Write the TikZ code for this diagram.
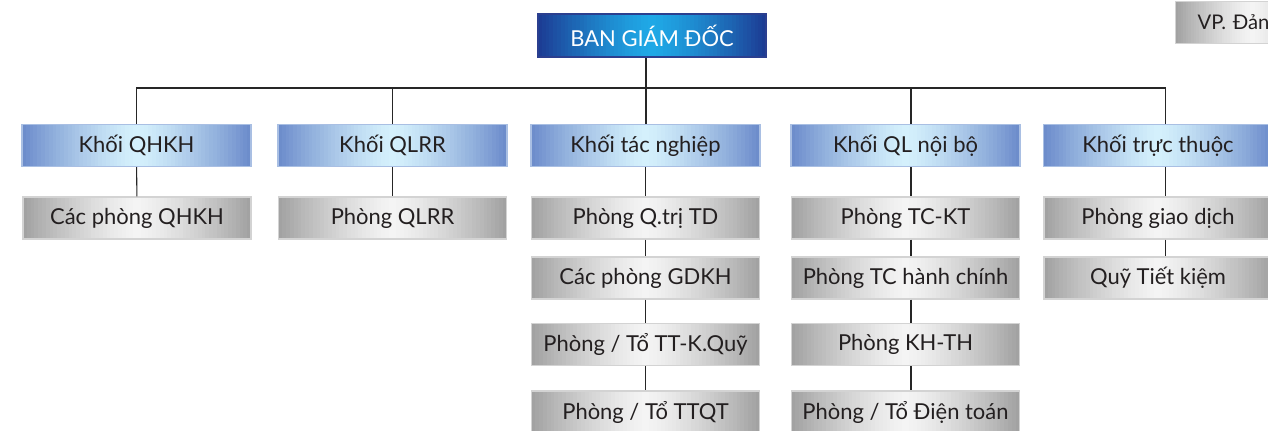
\documentclass[tikz,border=0pt]{standalone}
\usepackage{fontspec}
\setmainfont{Lato}
\usetikzlibrary{calc}
\definecolor{bedge}{HTML}{6A8ACA}
\definecolor{bmid}{HTML}{D4F0FC}
\definecolor{bline}{HTML}{A9BFE3}
\definecolor{gedge}{HTML}{A0A0A0}
\definecolor{gmid}{HTML}{F4F4F4}
\definecolor{gline}{HTML}{D3D3D3}
\definecolor{tedge}{HTML}{1C3A92}
\definecolor{tmid}{HTML}{1FA8E6}
\definecolor{tline}{HTML}{2B3F8F}
\definecolor{txt}{HTML}{231F20}
\tikzset{
  hgrad/.style 2 args={path picture={
    \path (path picture bounding box.south west) coordinate (ppsw)
          (path picture bounding box.north east) coordinate (ppne);
    \foreach \i in {0,...,59}{
      \pgfmathtruncatemacro\w{abs(2*(\i+0.5)/60-1)^1.3*100}
      \fill[#1!\w!#2] ($(ppsw)!\i/60!(ppsw -| ppne)$) rectangle ($(ppne -| ppsw)!{(\i+1.4)/60}!(ppne)$);
    }}},
  box/.style={rectangle, minimum height=0.84cm, inner sep=0pt, text=txt,
    font=\fontsize{12.5}{14}\selectfont},
  bluebox/.style={box, minimum width=4.58cm, hgrad={bedge}{bmid}, draw=bline, line width=0.7pt},
  graybox/.style={box, minimum width=4.56cm, hgrad={gedge}{gmid}, draw=gline, line width=0.7pt},
  topbox/.style={box, minimum width=4.56cm, minimum height=0.86cm, hgrad={tedge}{tmid}, draw=tline, line width=1.2pt, text=white},
  link/.style={draw=black!85, line width=0.6pt}
}
\begin{document}
\begin{tikzpicture}[x=0.02cm, y=-0.02cm]
\clip (0,0) rectangle (1268,430);
\fill[white] (0,0) rectangle (1268,430);
% top
\node[topbox] (bgd) at (652,35.5) {BAN GIÁM ĐỐC};
\node[graybox, anchor=west, text width=2.2cm, align=left, inner xsep=0.44cm, minimum width=2.6cm, font=\fontsize{11.5}{13}\selectfont] (vp) at (1175,22.5) {VP. Đản};
% level 2
\node[bluebox] (k1) at (136.5,145.5) {Khối QHKH};
\node[bluebox] (k2) at (392.5,145.5) {Khối QLRR};
\node[bluebox] (k3) at (645.5,145.5) {Khối tác nghiệp};
\node[bluebox] (k4) at (905.5,145.5) {Khối QL nội bộ};
\node[bluebox] (k5) at (1158,145.5) {Khối trực thuộc};
% level 3
\node[graybox] (a1) at (137,218) {Các phòng QHKH};
\node[graybox] (b1) at (392.5,218) {Phòng QLRR};
\node[graybox] (c1) at (645.5,218) {Phòng Q.trị TD};
\node[graybox] (c2) at (645.5,278) {Các phòng GDKH};
\node[graybox] (c3) at (645.5,344.5) {Phòng / Tổ TT-K.Quỹ};
\node[graybox] (c4) at (645.5,412) {Phòng / Tổ TTQT};
\node[graybox] (d1) at (905.5,218) {Phòng TC-KT};
\node[graybox] (d2) at (905.5,278) {Phòng TC hành chính};
\node[graybox] (d3) at (905.5,344.5) {Phòng KH-TH};
\node[graybox] (d4) at (905.5,412) {Phòng / Tổ Điện toán};
\node[graybox] (e1) at (1158,218) {Phòng giao dịch};
\node[graybox] (e2) at (1158,278) {Quỹ Tiết kiệm};
% connectors
\coordinate (bus) at (646,88);
\draw[link] (bus) -- (bus |- bgd.south);
\draw[link] (bus) -| (k1.north);
\draw[link] (bus) -| (k2.north);
\draw[link] (bus) -- (bus |- k3.north);
\draw[link] (bus) -| ([xshift=5.5*0.02cm]k4.north);
\draw[link] (bus) -| ([xshift=7.5*0.02cm]k5.north);
\draw[link] (k1) -- (a1);
\draw[link] (k2) -- (b1);
\draw[link] (k3) -- (c1);
\draw[link] (c1) -- (c2);
\draw[link] (c2) -- (c3);
\draw[link] (c3) -- (c4);
\draw[link] ([xshift=5.5*0.02cm]k4.south) -- ([xshift=5.5*0.02cm]d1.north);
\draw[link] ([xshift=5.5*0.02cm]d1.south) -- ([xshift=5.5*0.02cm]d2.north);
\draw[link] ([xshift=5.5*0.02cm]d2.south) -- ([xshift=5.5*0.02cm]d3.north);
\draw[link] ([xshift=5.5*0.02cm]d3.south) -- ([xshift=5.5*0.02cm]d4.north);
\draw[link] ([xshift=7.5*0.02cm]k5.south) -- ([xshift=7.5*0.02cm]e1.north);
\draw[link] ([xshift=7.5*0.02cm]e1.south) -- ([xshift=7.5*0.02cm]e2.north);
\end{tikzpicture}
\end{document}
